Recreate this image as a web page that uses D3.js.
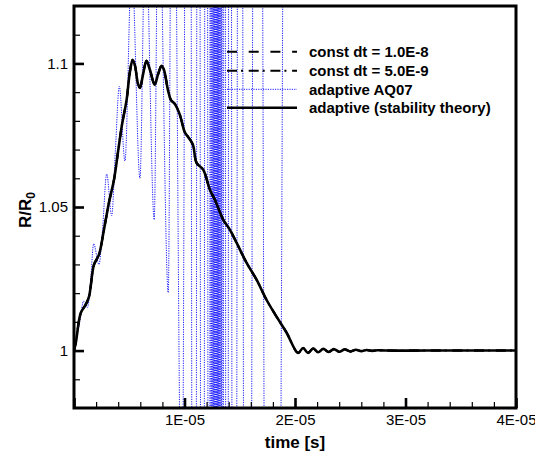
<!DOCTYPE html>
<html>
<head>
<meta charset="utf-8">
<script src="https://cdnjs.cloudflare.com/ajax/libs/d3/7.8.5/d3.min.js"></script>
<style>
  body { margin: 0; background: #fff; }
  svg { display: block; font-family: "Liberation Sans", Arial, sans-serif; }
</style>
</head>
<body>
<svg id="chart" width="535" height="458"></svg>
<script>
// time values are in microseconds, radius as R/R0

// adaptive (stability theory) - the const dt runs lie on top of it
var stabilityT = [0, 0.18, 0.61, 1.06, 1.36, 1.81, 2.26, 2.71, 3.16, 3.62, 4.01, 4.34, 4.76, 5.06, 5.31,
  5.52, 5.79, 5.97, 6.24, 6.56, 6.87, 7.30, 7.59, 7.93, 8.14, 8.50, 8.77, 9.13, 9.58, 10.04, 10.31,
  10.76, 11.09, 11.69, 12.30, 12.75, 13.50, 14.10, 14.71, 15.61, 16.52, 17.42, 18.33, 19.23, 20.28,
  20.73, 21.18, 21.64, 22.09, 22.56, 23.06, 23.51, 24.01, 24.50, 25.00, 25.50, 26.00, 26.49, 26.99,
  27.49, 28.20, 32.0, 36.0, 40.0];
var stabilityR = [1.0000, 1.0031, 1.0131, 1.0160, 1.0188, 1.0299, 1.0334, 1.0421, 1.0515, 1.0595, 1.0699,
  1.0786, 1.0873, 1.0971, 1.1013, 1.0992, 1.0929, 1.0915, 1.0960, 1.1009, 1.0978, 1.0926, 1.0960,
  1.0992, 1.0978, 1.0908, 1.0873, 1.0859, 1.0821, 1.0759, 1.0745, 1.0717, 1.0654, 1.0630, 1.0560,
  1.0525, 1.0456, 1.0421, 1.0376, 1.0306, 1.0247, 1.0177, 1.0118, 1.0063, 0.9992, 1.0009, 0.9992,
  1.0007, 0.9994, 1.0006, 0.9995, 1.0005, 0.9996, 1.0004, 0.9997, 1.0003, 0.9998, 1.0002, 0.9999,
  1.0001, 1.0000, 1.0000, 1.0000, 1.0000];
var constDt1R = stabilityR;
var constDt2R = stabilityR;

// adaptive AQ07 - extrema of the unstable oscillation
var aq07T = [0, 0.54, 0.86, 1.22, 1.49, 1.78, 2.26, 2.58, 2.96, 3.41, 3.75, 4.10, 4.61, 5.22, 5.97,
  6.46, 7.26, 7.64, 8.53, 8.91, 9.76, 10.40, 10.90, 11.26, 11.62, 11.98, 12.25, 12.34, 12.41, 12.48,
  12.54, 12.59, 12.65, 12.70, 12.75, 12.79, 12.84, 12.88, 12.93, 12.97, 13.02, 13.07, 13.11, 13.16,
  13.20, 13.26, 13.32, 13.38, 13.45, 13.61, 13.83, 14.10, 14.47, 15.01, 15.64, 16.55, 17.81, 19.26];
var aq07R = [1.000, 1.0105, 1.0172, 1.0150, 1.0235, 1.0372, 1.0300, 1.0420, 1.0615, 1.0470, 1.0700,
  1.0920, 1.0660, 1.135, 1.0600, 1.15, 1.0456, 1.17, 1.0202, 1.25, 0.93, 1.5, 0.5, 1.5, 0.5, 1.5,
  0.5, 1.5, 0.5, 1.5, 0.5, 1.5, 0.5, 1.5, 0.5, 1.5, 0.5, 1.5, 0.5, 1.5, 0.5, 1.5, 0.5, 1.5,
  0.5, 1.5, 0.5, 1.5, 0.5, 1.5, 0.5, 1.5, 0.5, 1.5, 0.5, 1.5, 0.5, 1.5];

var xMajorTicks = [0, 1e-5, 2e-5, 3e-5, 4e-5];
var xTickLabels = ['', '1E-05', '2E-05', '3E-05', '4E-05'];
var yMajorTicks = [1, 1.05, 1.1];
var yTickLabels = ['1', '1.05', '1.1'];
var legendLabels = ['const dt = 1.0E-8', 'const dt = 5.0E-9', 'adaptive AQ07', 'adaptive (stability theory)'];

var margin = {top: 6, right: 19, bottom: 50, left: 74};
var width = 535 - margin.left - margin.right;
var height = 458 - margin.top - margin.bottom;

var svg = d3.select('#chart');
var g = svg.append('g').attr('transform', 'translate(' + margin.left + ',' + margin.top + ')');

var x = d3.scaleLinear().domain([0, 4e-5]).range([0, width]);
var y = d3.scaleLinear().domain([0.98, 1.12]).range([height, 0]);

svg.append('defs').append('clipPath').attr('id', 'plot-clip')
  .append('rect').attr('width', width).attr('height', height);

// turn the two arrays into point lists
var toPoints = function (ts, rs) {
  return ts.map(function (t, i) { return {t: t * 1e-6, r: rs[i]}; });
};

var smoothLine = d3.line()
  .x(function (d) { return x(d.t); })
  .y(function (d) { return y(d.r); })
  .curve(d3.curveCatmullRom.alpha(0.5));

var oscLine = d3.line()
  .x(function (d) { return x(d.t); })
  .y(function (d) { return y(d.r); })
  .curve(d3.curveMonotoneX);

var plot = g.append('g').attr('clip-path', 'url(#plot-clip)');

// same order as the legend
var series = [
  {pts: toPoints(stabilityT, constDt1R), line: smoothLine, stroke: '#000', width: 2, dash: '10,11.7'},
  {pts: toPoints(stabilityT, constDt2R), line: smoothLine, stroke: '#000', width: 2, dash: '10,4,2,5.7'},
  {pts: toPoints(aq07T, aq07R), line: oscLine, stroke: '#1a1aff', width: 1, dash: '1.2,1.2'},
  {pts: toPoints(stabilityT, stabilityR), line: smoothLine, stroke: '#000', width: 2.6, dash: null}
];

// blue first so the black curves sit on top
[2, 0, 1, 3].forEach(function (k) {
  var s = series[k];
  plot.append('path')
    .attr('d', s.line(s.pts))
    .attr('fill', 'none')
    .attr('stroke', s.stroke)
    .attr('stroke-width', s.width)
    .attr('stroke-dasharray', s.dash)
    .attr('stroke-linejoin', 'round');
});

// AXES - ticks point into the plot
var xMinor = g.append('g').attr('transform', 'translate(0,' + height + ')')
  .call(d3.axisBottom(x).tickValues(d3.range(0, 4.01e-5, 2e-6)).tickSize(-6).tickFormat(''));
xMinor.select('.domain').remove();
xMinor.selectAll('line').attr('stroke-width', 1.2);

var xMajor = g.append('g').attr('transform', 'translate(0,' + height + ')')
  .call(d3.axisBottom(x).tickValues(xMajorTicks).tickSize(-10).tickPadding(6)
    .tickFormat(function (d, i) { return xTickLabels[i]; }));
xMajor.select('.domain').remove();
xMajor.selectAll('line').attr('stroke-width', 2.6);
xMajor.selectAll('text').style('font-size', '15px').attr('fill', '#000');

var yMinor = g.append('g')
  .call(d3.axisLeft(y).tickValues(d3.range(0.99, 1.115, 0.01)).tickSize(-6).tickFormat(''));
yMinor.select('.domain').remove();
yMinor.selectAll('line').attr('stroke-width', 1.2);

var yMajor = g.append('g')
  .call(d3.axisLeft(y).tickValues(yMajorTicks).tickSize(-10).tickPadding(6)
    .tickFormat(function (d, i) { return yTickLabels[i]; }));
yMajor.select('.domain').remove();
yMajor.selectAll('line').attr('stroke-width', 2.6);
yMajor.selectAll('text').style('font-size', '15px').attr('fill', '#000');

// frame
g.append('rect')
  .attr('width', width).attr('height', height)
  .attr('fill', 'none').attr('stroke', '#000').attr('stroke-width', 3);

// axis titles
g.append('text')
  .attr('x', width / 2).attr('y', height + 40)
  .attr('text-anchor', 'middle')
  .style('font-size', '17px').style('font-weight', 'bold')
  .text('time [s]');

var yTitle = svg.append('text')
  .attr('transform', 'translate(31,210) rotate(-90)')
  .attr('text-anchor', 'middle')
  .style('font-size', '17px').style('font-weight', 'bold');
yTitle.append('tspan').text('R/R');
yTitle.append('tspan').attr('dy', 4).style('font-size', '12px').text('0');

// LEGEND
var legendRows = [51.7, 70.7, 89.3, 107.7];
var legend = svg.append('g');
series.forEach(function (s, i) {
  legend.append('line')
    .attr('x1', 227).attr('x2', 297)
    .attr('y1', legendRows[i]).attr('y2', legendRows[i])
    .attr('stroke', s.stroke)
    .attr('stroke-width', s.width)
    .attr('stroke-dasharray', s.dash);
  legend.append('text')
    .attr('x', 309).attr('y', legendRows[i]).attr('dy', '0.35em')
    .style('font-size', '15px').style('font-weight', 'bold')
    .text(legendLabels[i]);
});
</script>
</body>
</html>
